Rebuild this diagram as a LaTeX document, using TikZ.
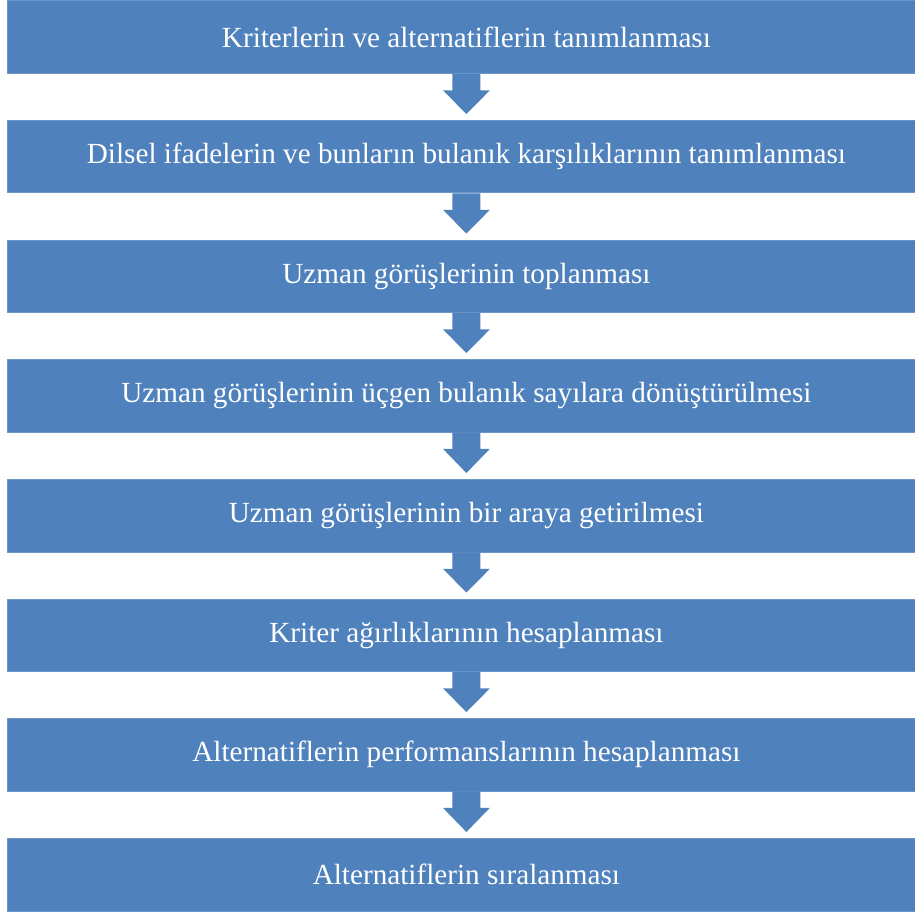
\documentclass[tikz,border=0pt]{standalone}
\usepackage{fontspec}
\setmainfont{Liberation Serif}
\definecolor{boxblue}{HTML}{4F81BD}
\definecolor{boxedge}{HTML}{6E95C8}
\begin{document}
\begin{tikzpicture}[x=1pt,y=1pt,
  stepbox/.style={fill=boxblue,draw=boxedge,line width=0.8pt,minimum width=918pt,minimum height=72.5pt,inner sep=0pt,anchor=north west,text=white,font=\fontsize{29.2}{34}\selectfont},
  downarrow/.style={fill=boxblue,draw=none}]
\useasboundingbox (0,0) rectangle (915,-912);
\begin{scope}
\clip (0,0) rectangle (915,-912);
\node[stepbox] (b1) at (7,-0.5) {Kriterlerin ve alternatiflerin tanımlanması};
\node[stepbox] (b2) at (7,-120) {Dilsel ifadelerin ve bunların bulanık karşılıklarının tanımlanması};
\node[stepbox] (b3) at (7,-239.5) {Uzman görüşlerinin toplanması};
\node[stepbox] (b4) at (7,-359) {Uzman görüşlerinin üçgen bulanık sayılara dönüştürülmesi};
\node[stepbox] (b5) at (7,-479) {Uzman görüşlerinin bir araya getirilmesi};
\node[stepbox] (b6) at (7,-598.5) {Kriter ağırlıklarının hesaplanması};
\node[stepbox] (b7) at (7,-718) {Alternatiflerin performanslarının hesaplanması};
\node[stepbox] (b8) at (7,-838) {Alternatiflerin sıralanması};
\end{scope}
\foreach \a/\b in {b1/b2,b2/b3,b3/b4,b4/b5,b5/b6,b6/b7,b7/b8}{
  \path (\a.south) ++(0,0) coordinate (s) (\b.north) coordinate (e);
  \fill[downarrow] ([xshift=-14pt]s) -- ([xshift=14pt]s) -- ([xshift=14pt,yshift=-16.5pt]s)
     -- ([xshift=23.5pt,yshift=-16.5pt]s) -- ([yshift=6pt]e) -- ([xshift=-23.5pt,yshift=-16.5pt]s)
     -- ([xshift=-14pt,yshift=-16.5pt]s) -- cycle;
}
\end{tikzpicture}
\end{document}
